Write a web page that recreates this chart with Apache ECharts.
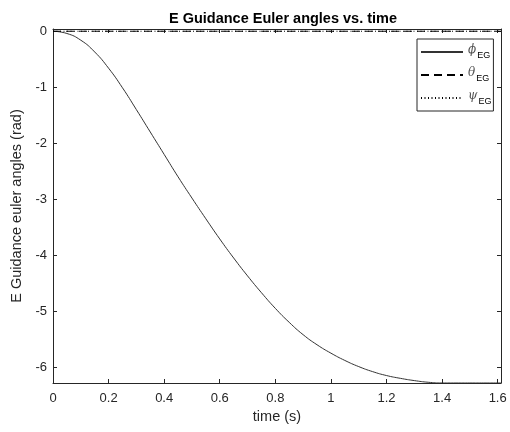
<!DOCTYPE html>
<html>
<head>
<meta charset="utf-8">
<script src="https://cdn.jsdelivr.net/npm/echarts@6/dist/echarts.min.js"></script>
<style>html,body{margin:0;padding:0;background:#fff}#c{width:510px;height:432px}</style>
</head>
<body>
<div id="c"></div>
<script>
var time = [0, 0.05, 0.1, 0.15, 0.2, 0.25, 0.3, 0.35, 0.4, 0.45, 0.5, 0.55, 0.6, 0.65, 0.7, 0.75, 0.8, 0.85, 0.9, 0.95, 1.0, 1.05, 1.1, 1.15, 1.2, 1.25, 1.3, 1.35, 1.4, 1.45, 1.5, 1.55, 1.6, 1.612];
var phiEG = [0, -0.04, -0.16, -0.37, -0.66, -1.01, -1.4, -1.8, -2.2, -2.6, -2.98, -3.35, -3.71, -4.05, -4.37, -4.67, -4.95, -5.2, -5.42, -5.6, -5.75, -5.88, -5.99, -6.08, -6.15, -6.2, -6.24, -6.27, -6.283, -6.283, -6.283, -6.283, -6.283, -6.283];
var thetaEG = [0, 0, 0, 0, 0, 0, 0, 0, 0, 0, 0, 0, 0, 0, 0, 0, 0, 0, 0, 0, 0, 0, 0, 0, 0, 0, 0, 0, 0, 0, 0, 0, 0, 0];
var psiEG = [0, 0, 0, 0, 0, 0, 0, 0, 0, 0, 0, 0, 0, 0, 0, 0, 0, 0, 0, 0, 0, 0, 0, 0, 0, 0, 0, 0, 0, 0, 0, 0, 0, 0];
var xTicks = [0, 0.2, 0.4, 0.6, 0.8, 1, 1.2, 1.4, 1.6];
var yTicks = [-6, -5, -4, -3, -2, -1, 0];

function pairs(ys){ return time.map(function(t,i){ return [t, ys[i]]; }); }

var FONT = '"Liberation Sans", Arial, Helvetica, sans-serif';
var AX = '#262626';
var chart = echarts.init(document.getElementById('c'), null, {renderer:'canvas'});
var xBase = {
  type:'value', min:0, max:1.612,
  axisLine:{show:true, onZero:false, lineStyle:{color:AX, width:1}},
  axisTick:{show:true, inside:true, length:4, customValues:xTicks, lineStyle:{color:AX}},
  splitLine:{show:false}
};
var yBase = {
  type:'value', min:-6.2832, max:0.04,
  axisLine:{show:true, onZero:false, lineStyle:{color:AX, width:1}},
  axisTick:{show:true, inside:true, length:4, customValues:yTicks, lineStyle:{color:AX}},
  splitLine:{show:false}
};
var legendRich = {
  g:{fontFamily:'"DejaVu Serif", "Liberation Serif", serif', fontStyle:'italic', fontSize:12, color:'#555', lineHeight:16, verticalAlign:'top', padding:[0,1,0,0]},
  s:{fontFamily:FONT, fontSize:9, color:'#000', lineHeight:16, verticalAlign:'bottom', padding:[7,0,0,0]}
};
chart.setOption({
  animation:false,
  backgroundColor:'#fff',
  title:{
    text:'E Guidance Euler angles vs. time', left:278, top:6, textAlign:'center',
    textStyle:{fontFamily:FONT, fontSize:14.5, fontWeight:'bold', color:'#000'}
  },
  grid:{left:53, right:9, top:29, bottom:49, containLabel:false},
  xAxis:[
    Object.assign({}, xBase, {
      position:'bottom',
      name:'time (s)', nameLocation:'middle', nameGap:23,
      nameTextStyle:{fontFamily:FONT, fontSize:14.5, color:AX},
      axisLabel:{show:true, customValues:xTicks, margin:9, fontFamily:FONT, fontSize:13, color:AX,
        formatter:function(v){ return String(+v.toFixed(1)); }}
    }),
    Object.assign({}, xBase, {position:'top', axisLabel:{show:false}})
  ],
  yAxis:[
    Object.assign({}, yBase, {
      position:'left',
      name:'E Guidance euler angles (rad)', nameLocation:'middle', nameGap:24,
      nameTextStyle:{fontFamily:FONT, fontSize:14.5, color:AX},
      axisLabel:{show:true, customValues:yTicks, margin:6, fontFamily:FONT, fontSize:13, color:AX}
    }),
    Object.assign({}, yBase, {position:'right', axisLabel:{show:false}})
  ],
  legend:{
    orient:'vertical', left:417, top:39,
    backgroundColor:'#fff', borderColor:AX, borderWidth:1,
    padding:[5,2,5,3], itemGap:7, itemWidth:42, itemHeight:16,
    align:'left',
    itemStyle:{opacity:0},
    textStyle:{rich:legendRich},
    formatter:function(n){
      var m = {phi:'ϕ', theta:'θ', psi:'ψ'};
      return '{g|' + m[n] + '}{s|EG}';
    },
    data:['phi','theta','psi']
  },
  series:[
    {name:'phi', type:'line', symbol:'none', smooth:true, data:pairs(phiEG),
      lineStyle:{color:'#333', width:1, type:'solid'}, itemStyle:{color:'#333'}, z:3},
    {name:'theta', type:'line', symbol:'none', data:pairs(thetaEG),
      lineStyle:{color:'#000', width:1, type:[8,5]}, itemStyle:{color:'#000'}, z:4},
    {name:'psi', type:'line', symbol:'none', data:pairs(psiEG),
      lineStyle:{color:'#000', width:1, type:[1,2.5]}, itemStyle:{color:'#000'}, z:5}
  ]
});
</script>
</body>
</html>
